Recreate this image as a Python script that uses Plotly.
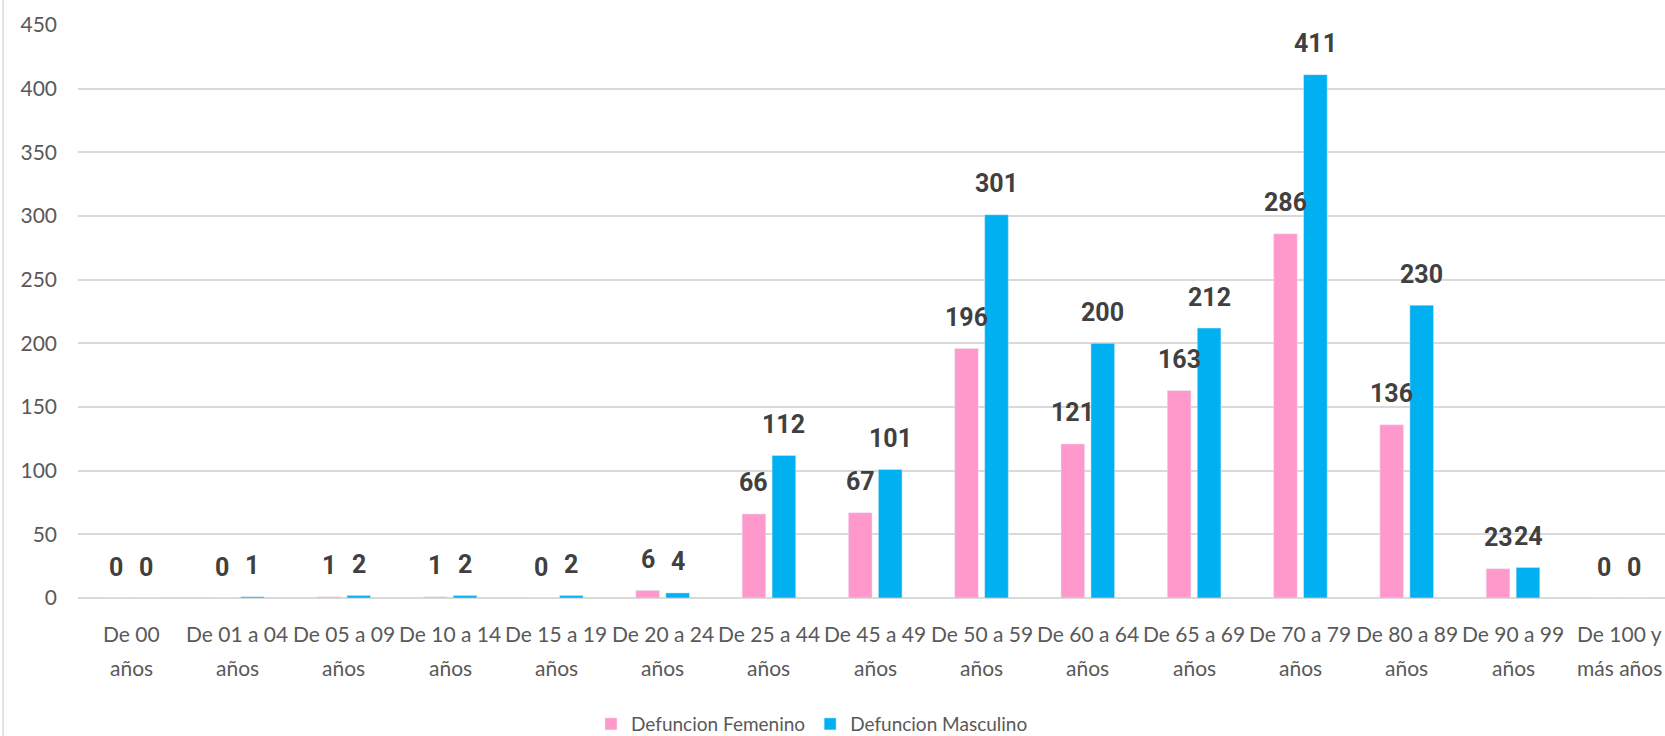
import plotly.graph_objects as go

categories = ["De 00<br>años", "De 01 a 04<br>años", "De 05 a 09<br>años", "De 10 a 14<br>años",
              "De 15 a 19<br>años", "De 20 a 24<br>años", "De 25 a 44<br>años", "De 45 a 49<br>años",
              "De 50 a 59<br>años", "De 60 a 64<br>años", "De 65 a 69<br>años", "De 70 a 79<br>años",
              "De 80 a 89<br>años", "De 90 a 99<br>años", "De 100 y<br>más años"]
femenino = [0, 0, 1, 1, 0, 6, 66, 67, 196, 121, 163, 286, 136, 23, 0]
masculino = [0, 1, 2, 2, 2, 4, 112, 101, 301, 200, 212, 411, 230, 24, 0]
y_ticks = [0, 50, 100, 150, 200, 250, 300, 350, 400, 450]

PINK = "#FF99CC"
BLUE = "#00B0F0"
TXT = "#595959"

fig = go.Figure()
fig.add_trace(go.Bar(name="Defuncion Femenino", x=categories, y=femenino, marker_color=PINK))
fig.add_trace(go.Bar(name="Defuncion Masculino", x=categories, y=masculino, marker_color=BLUE))

label_font = dict(family="Roboto, Lato, sans-serif", size=25, color="#404040")
cat_font = dict(family="Lato, sans-serif", size=21, color=TXT)
annotations = []
for cat, f, m in zip(categories, femenino, masculino):
    annotations.append(dict(x=cat, y=f, xref="x", yref="y", text=f"<b>{f}</b>", showarrow=False,
                            xshift=-15, yshift=31, yanchor="middle", font=label_font))
    annotations.append(dict(x=cat, y=m, xref="x", yref="y", text=f"<b>{m}</b>", showarrow=False,
                            xshift=15, yshift=31, yanchor="middle", font=label_font))
    line1, line2 = cat.split("<br>")
    annotations.append(dict(x=cat, y=0, xref="x", yref="y", text=line1, showarrow=False,
                            yshift=-35, yanchor="middle", font=cat_font))
    annotations.append(dict(x=cat, y=0, xref="x", yref="y", text=line2, showarrow=False,
                            yshift=-69, yanchor="middle", font=cat_font))

fig.update_layout(
    width=1665, height=736,
    margin=dict(l=78, r=0, t=25, b=138, autoexpand=False),
    paper_bgcolor="white", plot_bgcolor="white",
    barmode="group", bargap=0.436, bargroupgap=0.21,
    font=dict(family="Lato, sans-serif", color=TXT),
    showlegend=True,
    legend=dict(orientation="h", x=0.4625, xanchor="center", y=-0.22, yanchor="middle",
                font=dict(size=19, color=TXT), itemwidth=30, tracegroupgap=0),
    annotations=annotations,
    shapes=[dict(type="line", xref="paper", yref="paper", x0=-0.0472, x1=-0.0472, y0=-0.25, y1=1.05,
                 line=dict(color="#D9D9D9", width=1.5))],
)
fig.update_xaxes(range=[-0.5, 14.43], showgrid=False, showline=False, ticks="", automargin=False,
                 showticklabels=False)
fig.update_yaxes(range=[0, 450], tickvals=y_ticks, showgrid=True, gridcolor="#D9D9D9", gridwidth=1.5,
                 zeroline=True, zerolinecolor="#D9D9D9", zerolinewidth=1.5, showline=False, ticks="",
                 automargin=False, tickfont=dict(size=21, color=TXT), ticklabelstandoff=20)

fig.write_html("out.html", config={"displayModeBar": False},
               post_script="document.body.style.margin='0';document.body.style.overflow='hidden';")
